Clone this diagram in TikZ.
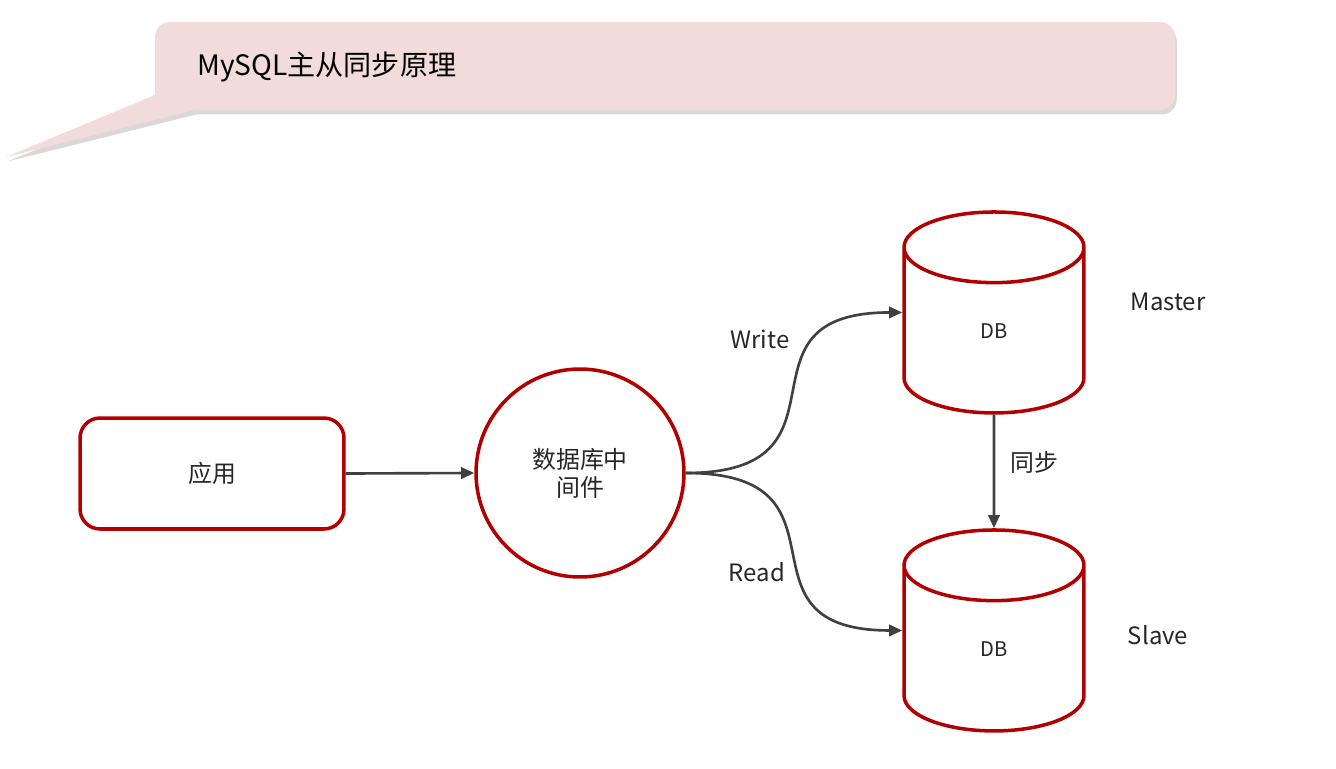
\documentclass[tikz,border=0pt]{standalone}
\usepackage{fontspec}
\setmainfont{Noto Sans CJK SC}
\usetikzlibrary{arrows.meta, shapes.geometric, shadows}
\definecolor{boxred}{HTML}{B20000}
\definecolor{arrgray}{HTML}{404040}
\definecolor{txtgray}{HTML}{262626}
\definecolor{calloutpink}{HTML}{F2DCDB}

\begin{document}
\begin{tikzpicture}[x=0.02cm, y=-0.02cm,
  redbox/.style={draw=boxred, line width=2pt, fill=white, text=txtgray, font=\fontsize{13.6}{16}\selectfont},
  dbcyl/.style={redbox, cylinder, shape border rotate=90, aspect=2.6,
                minimum width=3.6cm, minimum height=4.02cm, inner sep=0pt, font=\fontsize{11.5}{13}\selectfont},
  lbl/.style={text=txtgray, font=\fontsize{13.6}{16}\selectfont},
  arr/.style={-{Triangle[length=7.5pt, width=6.5pt]}, line width=1.5pt, draw=arrgray}]

  \useasboundingbox (0,0) rectangle (1336,768);

  % ----- Title callout -----
  \fill[calloutpink, drop shadow={shadow xshift=1pt, shadow yshift=-2.5pt, opacity=0.3}]
    (6,157) -- (155,95) [rounded corners=0.3cm] -- (155,22) -- (1175,22) -- (1175,110)
    [sharp corners] -- (195,110) -- cycle;
  \node[anchor=west, text=black, font=\fontsize{16}{19}\selectfont] (title) at (191,67) {MySQL主从同步原理};

  % ----- Nodes -----
  \node[redbox, rounded corners=0.4cm, minimum width=5.28cm, minimum height=2.22cm] (app) at (212,473.5) {应用};
  \node[redbox, circle, minimum size=4.16cm, align=center, inner sep=0pt] (mw) at (580,473) {数据库中\\间件};
  \node[dbcyl] (master) at (994,331) {DB};
  \node[dbcyl] (slave) at (994,649) {DB};

  % ----- Labels -----
  \node[lbl] (masterlbl) at (1168,302) {Master};
  \node[lbl] (slavelbl) at (1158,635) {Slave};
  \node[lbl] (writelbl) at (760,339) {Write};
  \node[lbl] (readlbl) at (757,572) {Read};
  \node[lbl] (synclbl) at (1034,462) {同步};

  % ----- Arrows -----
  \draw[arr] (app.east) -- (mw.west);
  \draw[arr] (mw.east) to[out=0, in=180, looseness=1.7] (master.west |- master.shape center);
  \draw[arr] (mw.east) to[out=0, in=180, looseness=1.7] (slave.west |- slave.shape center);
  \draw[arr] (master.south) -- (slave.north);

\end{tikzpicture}
\end{document}
